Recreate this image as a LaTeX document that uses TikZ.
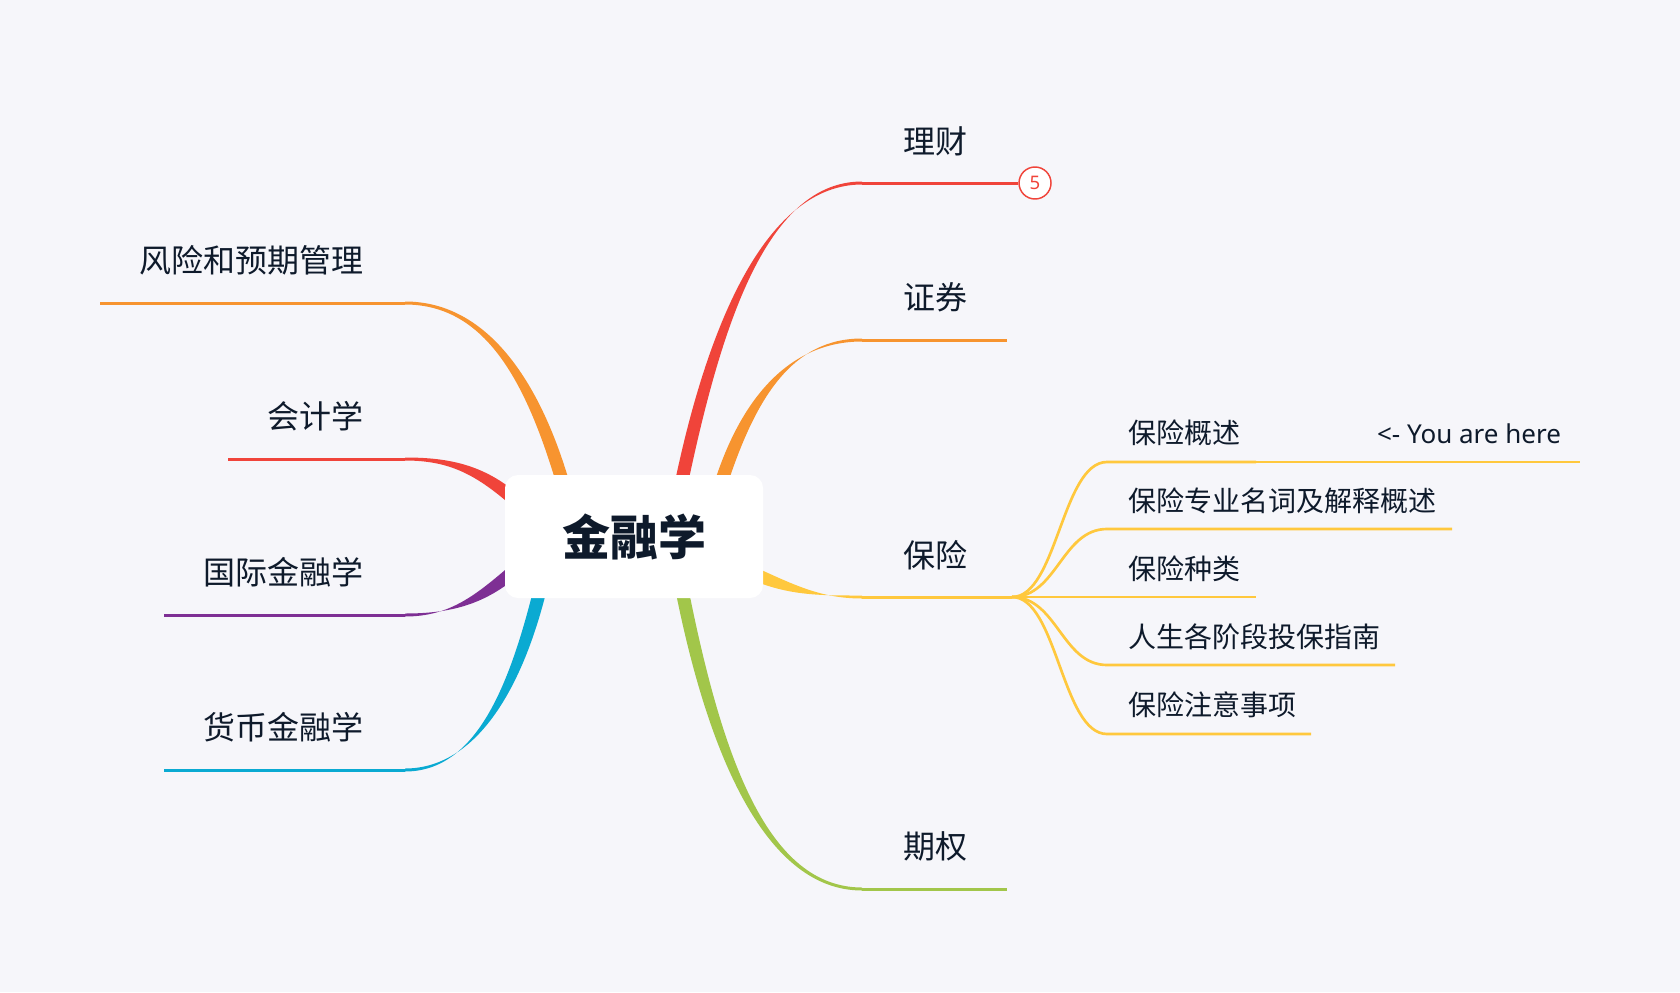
\documentclass[tikz,border=0pt]{standalone}
\usepackage{fontspec}
\setmainfont{Noto Sans CJK SC}
\newfontfamily\latinfont{Noto Sans}
\usetikzlibrary{calc}
\definecolor{bg}{HTML}{F6F6FA}
\definecolor{txt}{HTML}{0E1A2B}
\definecolor{cred}{HTML}{F0443A}
\definecolor{corange}{HTML}{F7942F}
\definecolor{cyellow}{HTML}{FFC83D}
\definecolor{cgreen}{HTML}{A2C64A}
\definecolor{cpurple}{HTML}{7E2F94}
\definecolor{ccyan}{HTML}{0AAAD2}
\tikzset{
  lbl/.style={text=txt, inner sep=0pt, font=\fontsize{24pt}{28pt}\selectfont},
  sublbl/.style={text=txt, inner sep=0pt, anchor=west, font=\fontsize{21pt}{25pt}\selectfont},
  brline/.style={line width=2.25pt},
  subline/.style={line width=2pt, cyellow},
}
\newcommand\taperbranch[6]{\fill[#1] ($#2+#6$) .. controls ($#3+#6$) and ($#4+(0,-1.5)$) .. ($#5+(0,-1.5)$) -- ($#5+(0,1.5)$) .. controls ($#4+(0,1.5)$) and ($#3-#6$) .. ($#2-#6$) -- cycle;}
\begin{document}
\begin{tikzpicture}[x=0.75pt,y=-0.75pt]
\useasboundingbox (0,0) rectangle (1680,992);
\fill[bg] (0,0) rectangle (1680,992);

% line start coordinates
\coordinate (r1) at (862,183);
\coordinate (r2) at (862,340);
\coordinate (r2e) at (1007,340);
\coordinate (r3) at (862,597);
\coordinate (fork) at (1012,597);
\coordinate (r4) at (862,889);
\coordinate (r4e) at (1007,889);
\coordinate (l1) at (405,303);
\coordinate (l1e) at (100,303);
\coordinate (l2) at (405,459);
\coordinate (l2e) at (228,459);
\coordinate (l3) at (405,615);
\coordinate (l3e) at (164,615);
\coordinate (l4) at (405,770);
\coordinate (l4e) at (164,770);

% tapered branches
\taperbranch{cred}{(682,480)}{(716,320)}{(768,183)}{(r1)}{(6.4,1.4)}
\taperbranch{corange}{(722,480)}{(750,396)}{(792,340)}{(r2)}{(6.2,2)}
\taperbranch{cyellow}{(750,572)}{(790,590)}{(820,597)}{(r3)}{(-2.7,5.9)}
\taperbranch{cgreen}{(682,590)}{(716,760)}{(768,889)}{(r4)}{(6.4,-1.3)}
\taperbranch{corange}{(562,480)}{(531,377)}{(484,303)}{(l1)}{(6.2,-1.9)}
\taperbranch{cred}{(515,500)}{(480,470)}{(450,459)}{(l2)}{(4.2,-4.9)}
\taperbranch{cpurple}{(515,570)}{(480,600)}{(450,615)}{(l3)}{(4.2,4.9)}
\taperbranch{ccyan}{(540,590)}{(515,690)}{(475,770)}{(l4)}{(6.3,1.6)}

% central node
\node[fill=white, rounded corners=9.75pt, minimum width=193.5pt, minimum height=92.25pt, inner sep=0pt] (root) at (634,536.5) {};
\node[text=txt, inner sep=0pt, font=\fontsize{36pt}{42pt}\selectfont\bfseries] (roottext) at (634,537) {金融学};

% right main branches
\node[circle, draw=cred, fill=white, line width=1.1pt, minimum size=24pt, inner sep=0pt, text=cred, font=\latinfont\fontsize{14pt}{16pt}\selectfont] (badge) at (1035,183) {5};
\draw[brline, cred] (r1) -- (badge.west);
\draw[brline, corange] (r2) -- (r2e);
\draw[brline, cyellow] (r3) -- (fork);
\draw[brline, cgreen] (r4) -- (r4e);

\node[lbl] (licai) at (935,141) {理财};
\node[lbl] (zhengquan) at (935,297) {证券};
\node[lbl] (baoxian) at (935,555) {保险};
\node[lbl] (qiquan) at (935,846) {期权};

% left branches
\draw[brline, corange] (l1) -- (l1e);
\draw[brline, cred] (l2) -- (l2e);
\draw[brline, cpurple] (l3) -- (l3e);
\draw[brline, ccyan] (l4) -- (l4e);

\node[lbl, anchor=east] (fengxian) at (364,260) {风险和预期管理};
\node[lbl, anchor=east] (kuaiji) at (364,416) {会计学};
\node[lbl, anchor=east] (guoji) at (364,572) {国际金融学};
\node[lbl, anchor=east] (huobi) at (364,727) {货币金融学};

% sub branches of 保险
\coordinate (s1) at (1107,462); \coordinate (s1e) at (1256,462); \coordinate (s1x) at (1580,462);
\coordinate (s2) at (1107,529); \coordinate (s2e) at (1452,529);
\coordinate (s3) at (1107,597); \coordinate (s3e) at (1256,597);
\coordinate (s4) at (1107,665); \coordinate (s4e) at (1395,665);
\coordinate (s5) at (1107,734); \coordinate (s5e) at (1311,734);
\foreach \s in {s1,s2,s4,s5}{
  \draw[subline] (fork) .. controls +(45,0) and +(-45,0) .. (\s) -- (\s e);
}
\draw[subline] (fork) -- (s3e);
\draw[line width=1.1pt, cyellow] (s1e) -- (s1x);

\node[sublbl] (t1) at (1128,433) {保险概述};
\node[sublbl] (t2) at (1128,501) {保险专业名词及解释概述};
\node[sublbl] (t3) at (1128,569) {保险种类};
\node[sublbl] (t4) at (1128,637) {人生各阶段投保指南};
\node[sublbl] (t5) at (1128,705) {保险注意事项};
\node[text=txt, inner sep=0pt, font=\latinfont\fontsize{19.5pt}{23pt}\selectfont] (here) at (1469,434) {<- You are here};
\end{tikzpicture}
\end{document}
